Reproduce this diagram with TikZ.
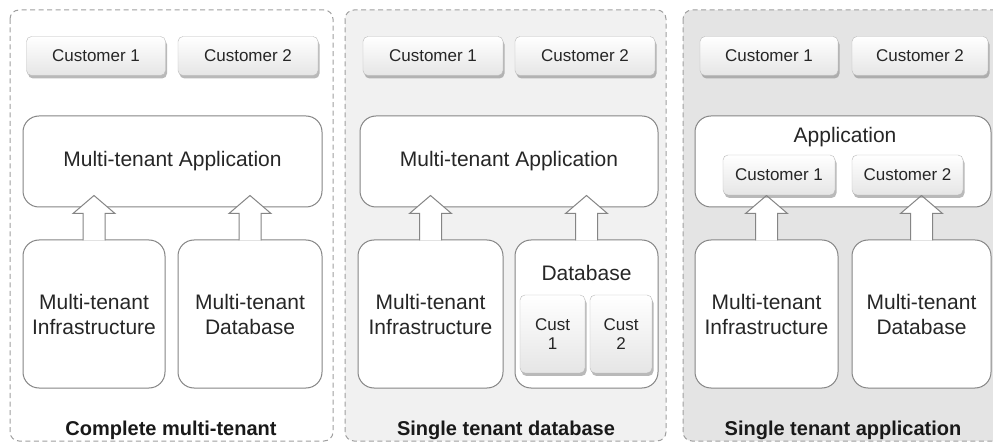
\documentclass[tikz,border=0pt]{standalone}
\usepackage{fontspec}
\setmainfont{Liberation Sans}
\usetikzlibrary{calc,shadows}

\definecolor{panelgray}{HTML}{F1F1F1}
\definecolor{paneldark}{HTML}{E4E4E4}
\definecolor{linegray}{HTML}{858585}
\definecolor{textgray}{HTML}{262626}

\tikzset{
  panel/.style={draw=gray!75, dash pattern=on 5pt off 3.5pt, line width=1pt, rounded corners=9pt},
  custbox/.style={draw=gray!55, rounded corners=5pt, top color=white, bottom color=gray!20,
    drop shadow={shadow xshift=1.5pt, shadow yshift=-3pt, opacity=0.55},
    text=textgray, font=\fontsize{17}{19}\selectfont, align=center, inner sep=0pt},
  tierbox/.style={draw=linegray, fill=white, rounded corners=16pt, line width=1pt,
    text=textgray, font=\fontsize{21}{25}\selectfont, align=center, inner sep=0pt},
  flow/.style={draw=linegray, fill=white, line width=1pt},
  paneltitle/.style={font=\bfseries\fontsize{20}{24}\selectfont, text=black!90}
}

% hollow block arrow from a lower box up into an upper box
\newcommand{\tenantarrow}[2]{%
  \draw[flow] let \p1=(#1.north), \p2=(#2.south) in
    (\x1-11pt,\y1-1pt) -- (\x1-11pt,\y2-6pt) -- (\x1-21pt,\y2-6pt) -- (\x1,\y2+12pt)
    -- (\x1+21pt,\y2-6pt) -- (\x1+11pt,\y2-6pt) -- (\x1+11pt,\y1-1pt);
}

\begin{document}
\begin{tikzpicture}[x=1pt, y=-1pt]

    \useasboundingbox (0,0) rectangle (993,443);
    \clip (0,0) rectangle (993,443);

    % Panels
    \draw[panel, fill=white] (10,10) rectangle (333,441);
    \draw[panel, fill=panelgray] (345,10) rectangle (666,441);
    \draw[panel, fill=paneldark] (683,10) rectangle (1005,441);

    % Complete multi-tenant
    \node[custbox, minimum width=139pt, minimum height=39pt] (custA1) at (96,56) {Customer 1};
    \node[custbox, minimum width=140pt, minimum height=39pt] (custA2) at (248,56) {Customer 2};
    \node[tierbox, minimum width=299pt, minimum height=91pt] (appA) at (172.5,161.5) {Multi-tenant Application};
    \node[tierbox, minimum width=142pt, minimum height=148pt] (infraA) at (94,314) {Multi-tenant\\Infrastructure};
    \node[tierbox, minimum width=144pt, minimum height=148pt] (dbA) at (250,314) {Multi-tenant\\Database};
    \tenantarrow{infraA}{appA}
    \tenantarrow{dbA}{appA}
    \node[paneltitle] (titleA) at (171,430) {Complete multi-tenant};

    % Single tenant database
    \node[custbox, minimum width=140pt, minimum height=39pt] (custB1) at (433,56) {Customer 1};
    \node[custbox, minimum width=140pt, minimum height=39pt] (custB2) at (585,56) {Customer 2};
    \node[tierbox, minimum width=298pt, minimum height=91pt] (appB) at (509,161.5) {Multi-tenant Application};
    \node[tierbox, minimum width=145pt, minimum height=148pt] (infraB) at (430.5,314) {Multi-tenant\\Infrastructure};
    \node[tierbox, minimum width=143pt, minimum height=148pt] (dbB) at (586.5,314) {};
    \node[text=textgray, font=\fontsize{21}{25}\selectfont] (dbBlabel) at (586.5,273) {Database};
    \node[custbox, minimum width=65pt, minimum height=78pt] (dbcust1) at (552.5,334) {Cust\\1};
    \node[custbox, minimum width=62pt, minimum height=78pt] (dbcust2) at (621,334) {Cust\\2};
    \tenantarrow{infraB}{appB}
    \tenantarrow{dbB}{appB}
    \node[paneltitle] (titleB) at (506,430) {Single tenant database};

    % Single tenant application
    \node[custbox, minimum width=138pt, minimum height=39pt] (custC1) at (769,56) {Customer 1};
    \node[custbox, minimum width=136pt, minimum height=39pt] (custC2) at (920,56) {Customer 2};
    \node[tierbox, minimum width=296pt, minimum height=91pt] (appC) at (843,161.5) {};
    \node[text=textgray, font=\fontsize{21}{25}\selectfont] (appClabel) at (845,137) {Application};
    \node[tierbox, minimum width=143pt, minimum height=148pt] (infraC) at (766.5,314) {Multi-tenant\\Infrastructure};
    \node[tierbox, minimum width=139pt, minimum height=148pt] (dbC) at (921.5,314) {Multi-tenant\\Database};
    \tenantarrow{infraC}{appC}
    \tenantarrow{dbC}{appC}
    \node[custbox, minimum width=112pt, minimum height=40pt] (appcust1) at (779,175) {Customer 1};
    \node[custbox, minimum width=111pt, minimum height=40pt] (appcust2) at (907.5,175) {Customer 2};
    \node[paneltitle] (titleC) at (843,430) {Single tenant application};

\end{tikzpicture}
\end{document}
